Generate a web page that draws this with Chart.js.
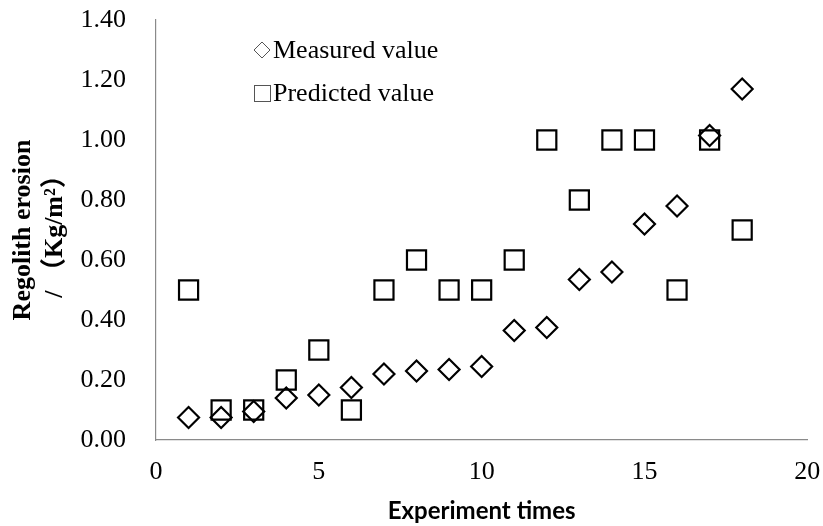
<!DOCTYPE html>
<html>
<head>
<meta charset="utf-8">
<script src="https://cdn.jsdelivr.net/npm/chart.js@4.4.1/dist/chart.umd.min.js"></script>
<style>
  html, body { margin: 0; padding: 0; background: #fff; }
  #wrap { width: 823px; height: 526px; }
</style>
</head>
<body>
<div id="wrap"><canvas id="chart"></canvas></div>
<script>
// experiment number (x) and erosion values (Kg/m2)
const experiments = [1, 2, 3, 4, 5, 6, 7, 8, 9, 10, 11, 12, 13, 14, 15, 16, 17, 18];
const measured = [0.075, 0.075, 0.095, 0.14, 0.15, 0.175, 0.22, 0.23, 0.235, 0.245, 0.365, 0.375, 0.535, 0.56, 0.72, 0.78, 1.015, 1.17];
const predicted = [0.5, 0.1, 0.1, 0.2, 0.3, 0.1, 0.5, 0.6, 0.5, 0.5, 0.6, 1.0, 0.8, 1.0, 1.0, 0.5, 1.0, 0.7];
const seriesNames = ['Measured value', 'Predicted value'];
const yTitle = ['Regolith erosion', '/ （Kg/m²）'];
const xTitle = 'Experiment times';

const serif = "'Liberation Serif', 'Times New Roman', 'Noto Sans CJK SC', serif";

// legend drawn inside the plot, like the original
const legendBox = {
  id: 'legendBox',
  afterDraw(chart) {
    const ctx = chart.ctx;
    ctx.save();
    ctx.strokeStyle = '#555';
    ctx.lineWidth = 1;
    // diamond
    ctx.beginPath();
    ctx.moveTo(254, 50); ctx.lineTo(262, 42); ctx.lineTo(270, 50); ctx.lineTo(262, 58);
    ctx.closePath();
    ctx.stroke();
    // square
    ctx.strokeRect(254.5, 85.5, 16, 16);
    ctx.fillStyle = '#000';
    ctx.font = '26px ' + serif;
    ctx.textBaseline = 'alphabetic';
    ctx.fillText(seriesNames[0], 273, 58);
    ctx.fillText(seriesNames[1], 273, 101);
    ctx.restore();
  }
};

new Chart(document.getElementById('chart'), {
  type: 'scatter',
  data: {
    datasets: [{
      label: seriesNames[0],
      data: experiments.map((x, i) => ({x: x, y: measured[i]})),
      pointStyle: 'rectRot',
      pointRadius: 10.5,
      pointHoverRadius: 10.5,
      borderColor: '#000',
      backgroundColor: 'rgba(0,0,0,0)',
      pointBorderWidth: 2.2
    }, {
      label: seriesNames[1],
      data: experiments.map((x, i) => ({x: x, y: predicted[i]})),
      pointStyle: 'rect',
      pointRadius: 13.5,
      pointHoverRadius: 13.5,
      borderColor: '#000',
      backgroundColor: 'rgba(0,0,0,0)',
      pointBorderWidth: 2.2
    }]
  },
  options: {
    responsive: true,
    maintainAspectRatio: false,
    animation: false,
    layout: { padding: { top: 20, right: 12, bottom: 0, left: 0 } },
    plugins: { legend: { display: false }, tooltip: { enabled: false } },
    scales: {
      x: {
        type: 'linear',
        min: 0, max: 20,
        grid: { display: true, color: 'rgba(0,0,0,0)', tickColor: 'rgba(0,0,0,0)', drawTicks: true, tickLength: 17 },
        border: { display: true, color: '#8a8a8a', width: 1.2 },
        ticks: { stepSize: 5, padding: 0, color: '#000', font: { family: serif, size: 26 } },
        title: { display: true, text: xTitle, color: '#000', padding: 0,
                 font: { family: "Lato, 'Open Sans', sans-serif", size: 24, weight: 'bold' } },
        afterFit(scale) { scale.height = 86; }
      },
      y: {
        min: 0, max: 1.4,
        grid: { display: true, color: 'rgba(0,0,0,0)', tickColor: 'rgba(0,0,0,0)', drawTicks: true, tickLength: 30 },
        border: { display: true, color: '#8a8a8a', width: 1.2 },
        ticks: { stepSize: 0.2, padding: 0, color: '#000', font: { family: serif, size: 26 },
                 callback: v => v.toFixed(2) },
        title: { display: true, text: yTitle, color: '#000', padding: { top: 8, bottom: 0 },
                 font: { family: serif, size: 26, weight: 'bold' } },
        afterFit(scale) { scale.width = 156; }
      }
    }
  },
  plugins: [legendBox]
});
</script>
</body>
</html>
